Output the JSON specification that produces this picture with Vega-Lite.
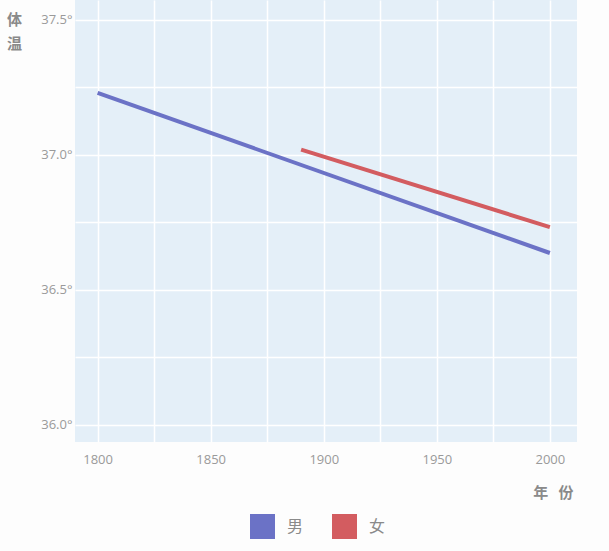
{
  "$schema": "https://vega.github.io/schema/vega-lite/v6.json",
  "width": 502,
  "height": 442,
  "autosize": {"type": "none"},
  "padding": {"left": 75, "top": 0, "right": 32, "bottom": 109},
  "background": "#fdfdfd",
  "config": {
    "view": {"fill": "#e4eff8", "stroke": null},
    "font": "Noto Sans CJK SC",
    "axis": {
      "domain": false,
      "ticks": false,
      "gridColor": "#ffffff",
      "gridWidth": 1.5,
      "gridOpacity": 1,
      "labelColor": "#9a9a9a",
      "labelFontSize": 13,
      "labelFont": "Open Sans",
      "titleColor": "#8a8a8a",
      "titleFontSize": 15,
      "titleFontWeight": 600
    }
  },
  "data": {
    "values": [
      {"year": 1800, "temp": 37.23, "sex": "男"},
      {"year": 2000, "temp": 36.637, "sex": "男"},
      {"year": 1890, "temp": 37.02, "sex": "女"},
      {"year": 2000, "temp": 36.733, "sex": "女"}
    ]
  },
  "mark": {"type": "line", "strokeWidth": 4, "clip": true},
  "encoding": {
    "x": {
      "field": "year",
      "type": "quantitative",
      "scale": {"domain": [1790, 2012], "nice": false, "zero": false},
      "axis": {
        "values": [1800, 1825, 1850, 1875, 1900, 1925, 1950, 1975, 2000],
        "labelExpr": "datum.value % 50 == 0 ? datum.label : ''",
        "format": "d",
        "labelPadding": 11,
        "title": "年\u00a0\u00a0\u00a0份",
        "titleAngle": 0,
        "titleAlign": "right",
        "titleBaseline": "middle",
        "titleX": 498,
        "titleY": 50
      }
    },
    "y": {
      "field": "temp",
      "type": "quantitative",
      "scale": {"domain": [35.937, 37.574], "nice": false, "zero": false},
      "axis": {
        "values": [36.0, 36.25, 36.5, 36.75, 37.0, 37.25, 37.5],
        "labelExpr": "(datum.value * 100) % 50 == 0 ? format(datum.value, '.1f') + '°' : ''",
        "labelPadding": 3,
        "title": ["体", "温"],
        "titleAngle": 0,
        "titleAlign": "center",
        "titleBaseline": "top",
        "titleX": -61,
        "titleY": 12,
        "titleLineHeight": 24
      }
    },
    "color": {
      "field": "sex",
      "type": "nominal",
      "sort": ["男", "女"],
      "scale": {"domain": ["男", "女"], "range": ["#6b72c6", "#d35c60"]},
      "legend": {
        "title": null,
        "orient": "none",
        "direction": "horizontal",
        "legendX": 175,
        "legendY": 514,
        "symbolType": "square",
        "symbolSize": 625,
        "symbolStrokeWidth": 0,
        "labelFontSize": 16,
        "labelColor": "#8a8a8a",
        "labelFontWeight": "normal",
        "labelOffset": 12,
        "columnPadding": 28,
        "encode": {
          "symbols": {"update": {"fill": {"scale": "color", "field": "value"}, "fillOpacity": {"value": 1}}}
        }
      }
    }
  }
}
